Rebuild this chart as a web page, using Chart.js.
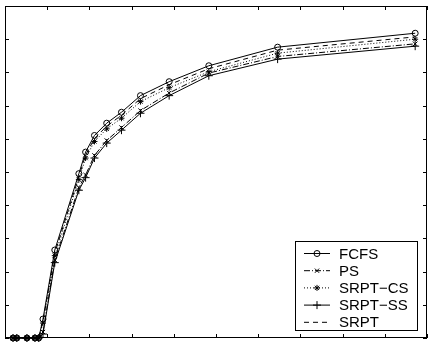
<!DOCTYPE html>
<html>
<head>
<meta charset="utf-8">
<script src="https://cdn.jsdelivr.net/npm/chart.js@4/dist/chart.umd.min.js"></script>
<style>
html,body{margin:0;padding:0;background:#fff;}
#wrap{width:432px;height:343px;position:relative;}
</style>
</head>
<body>
<div id="wrap"><canvas id="c" width="432" height="343"></canvas></div>
<script>
const xValues = [0.19,0.28,0.52,0.71,0.80,0.90,1.18,1.75,1.91,2.12,2.41,2.76,3.21,3.89,4.83,6.46,9.72];
const fcfs    = [0,0,0,0,0,0.57,2.65,4.95,5.60,6.10,6.47,6.80,7.30,7.72,8.20,8.76,9.18];
const ps      = [0,0,0,0,0,0.18,2.35,4.53,4.91,5.50,5.95,6.34,6.85,7.38,7.98,8.48,8.86];
const srptCS  = [0,0,0,0,0,0.45,2.48,4.77,5.42,5.92,6.30,6.62,7.12,7.54,8.02,8.58,9.00];
const srptSS  = [0,0,0,0,0,0.12,2.27,4.45,4.83,5.42,5.87,6.26,6.77,7.30,7.90,8.40,8.79];
const srpt    = [0,0,0,0,0,0.50,2.56,4.86,5.51,6.01,6.38,6.71,7.21,7.63,8.11,8.67,9.07];
const labels  = ['FCFS','PS','SRPT\u2212CS','SRPT\u2212SS','SRPT'];
const xTicks  = [0,1,2,3,4,5,6,7,8,9,10];
const yTicks  = [0,1,2,3,4,5,6,7,8,9,10];

const pts = ys => xValues.map((x,i)=>({x:x,y:ys[i]}));
const styles = [
  {dash:[], marker:'circle', r:3},
  {dash:[6,2,1,2], marker:'crossRot', r:3},
  {dash:[1,2], marker:'star', r:3},
  {dash:[], marker:'cross', r:4},
  {dash:[5,4], marker:false, r:0}
];
const series = [fcfs, ps, srptCS, srptSS, srpt];

const datasets = series.map((s,i)=>({
  label: labels[i],
  data: pts(s),
  borderColor:'#000',
  borderWidth:1,
  borderDash: styles[i].dash,
  pointStyle: styles[i].marker,
  pointRadius: styles[i].r,
  pointBorderColor:'#000',
  pointBackgroundColor:'rgba(0,0,0,0)',
  pointBorderWidth:1,
  pointHoverRadius: styles[i].r,
  fill:false,
  tension:0,
  clip:false
}));

function drawMarker(ctx, style, x, y, r){
  ctx.save();
  ctx.setLineDash([]);
  ctx.beginPath();
  if(style==='circle'){ ctx.arc(x,y,r,0,Math.PI*2); }
  if(style==='cross'||style==='star'){ ctx.moveTo(x-r,y);ctx.lineTo(x+r,y);ctx.moveTo(x,y-r);ctx.lineTo(x,y+r); }
  if(style==='crossRot'||style==='star'){ const d=r*0.707; ctx.moveTo(x-d,y-d);ctx.lineTo(x+d,y+d);ctx.moveTo(x+d,y-d);ctx.lineTo(x-d,y+d); }
  ctx.stroke();
  ctx.restore();
}

const framePlugin = {
  id:'frame',
  afterDraw(chart){
    const ctx = chart.ctx, a = chart.chartArea;
    const xs = chart.scales.x, ys = chart.scales.y;
    ctx.save();
    ctx.strokeStyle='#000'; ctx.lineWidth=1; ctx.setLineDash([]);
    ctx.strokeRect(Math.round(a.left)+0.5, Math.round(a.top)+0.5, Math.round(a.right-a.left)-1, Math.round(a.bottom-a.top)-1);
    const tl = 4;
    ctx.beginPath();
    xTicks.forEach(v=>{
      const px = Math.round(xs.getPixelForValue(v))+0.5;
      ctx.moveTo(px,a.top); ctx.lineTo(px,a.top+tl);
      ctx.moveTo(px,a.bottom); ctx.lineTo(px,a.bottom-tl);
    });
    yTicks.forEach(v=>{
      const py = Math.round(ys.getPixelForValue(v))+0.5;
      ctx.moveTo(a.left,py); ctx.lineTo(a.left+tl,py);
      ctx.moveTo(a.right,py); ctx.lineTo(a.right-tl,py);
    });
    ctx.stroke();

    // legend
    const bx=295.5, by=241.5, bw=122, bh=89;
    ctx.fillStyle='#fff';
    ctx.fillRect(bx,by,bw,bh);
    ctx.strokeRect(bx,by,bw,bh);
    ctx.font='15px "Liberation Sans", Arial, sans-serif';
    ctx.textBaseline='middle';
    chart.data.datasets.forEach((ds,i)=>{
      const y = 253.5 + i*17.2;
      ctx.save();
      ctx.setLineDash(ds.borderDash);
      ctx.beginPath(); ctx.moveTo(304,y); ctx.lineTo(330,y); ctx.stroke();
      ctx.restore();
      if(ds.pointStyle) drawMarker(ctx, ds.pointStyle, 317, y, ds.pointRadius);
      ctx.fillStyle='#000';
      ctx.fillText(ds.label, 339, y+1);
    });
    ctx.restore();
  }
};

new Chart(document.getElementById('c'), {
  type:'line',
  data:{datasets:datasets},
  options:{
    responsive:false,
    animation:false,
    events:[],
    layout:{padding:{left:3,top:6,right:5,bottom:1}},
    plugins:{legend:{display:false},tooltip:{enabled:false}},
    scales:{
      x:{type:'linear',min:0,max:10,display:false},
      y:{type:'linear',min:0,max:10,display:false}
    }
  },
  plugins:[framePlugin]
});
</script>
</body>
</html>
